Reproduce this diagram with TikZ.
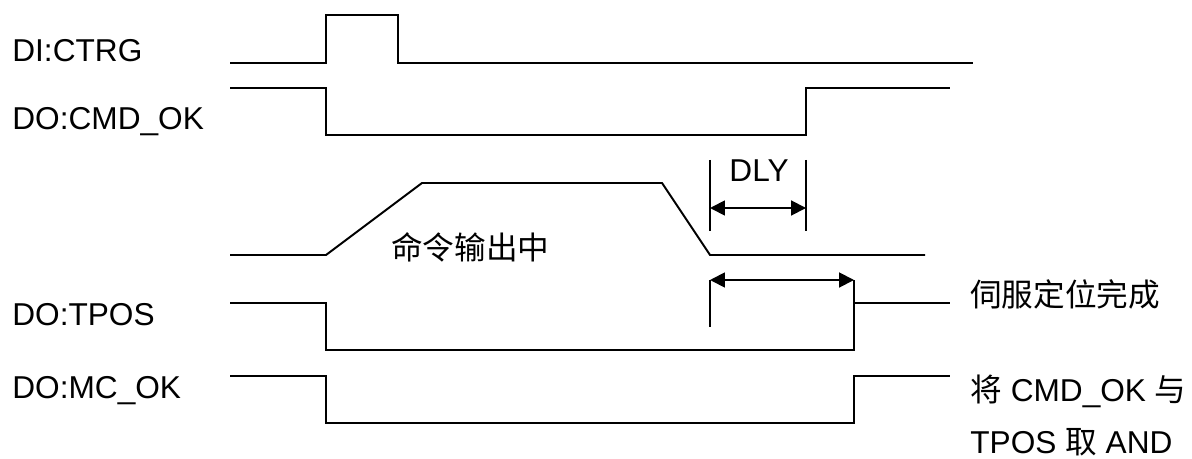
\documentclass[tikz,border=0pt]{standalone}
\usepackage{fontspec}
\setmainfont{Liberation Sans}
\newfontfamily\cjk{Noto Sans CJK SC}
\usepackage{tikz}
\usetikzlibrary{arrows.meta}
\tikzset{
	wave/.style={line width=1.1pt}
}
\tikzset{
	sigtext/.style={font=\fontsize{18}{22}\selectfont, inner sep=0pt}
}
\tikzset{
	dimarrow/.style={line width=1.1pt, {Triangle[length=8.5pt,width=8.5pt]}-{Triangle[length=8.5pt,width=8.5pt]}}
}
\newcommand{\zh}[1]{{\cjk #1}}

\begin{document}
\begin{tikzpicture}[x=0.02cm, y=-0.02cm]
      \useasboundingbox (0,0) rectangle (1192,459);
      % signal names
      \node[sigtext, anchor=base west] (ctrg) at (12,62) {DI:CTRG};
      \node[sigtext, anchor=base west] (cmdok) at (12,130) {DO:CMD\_OK};
      \node[sigtext, anchor=base west] (tpos) at (12,325) {DO:TPOS};
      \node[sigtext, anchor=base west] (mcok) at (12,398) {DO:MC\_OK};
      % waveforms
      \draw[wave] (230,63) -- (326,63) -- (326,15) -- (398,15) -- (398,63) -- (973,63);
      \draw[wave] (230,88) -- (326,88) -- (326,135) -- (806,135) -- (806,88) -- (950,88);
      \draw[wave] (230,255) -- (326,255) -- (422,183) -- (662,183) -- (710,255) -- (925,255);
      \draw[wave] (230,303) -- (326,303) -- (326,350) -- (854,350) -- (854,303) -- (950,303);
      \draw[wave] (230,376) -- (326,376) -- (326,423) -- (854,423) -- (854,376) -- (950,376);
      \node[sigtext, anchor=base west] (busy) at (391,259) {\zh{命令输出中}};
      % DLY
      \coordinate (dlyA) at (710,208);
      \coordinate (dlyB) at (806,208);
      \draw[wave] (710,160) -- (710,231);
      \draw[wave] (806,160) -- (806,231);
      \draw[dimarrow] (dlyA) -- (dlyB);
      \node[sigtext, anchor=base] (dly) at (759,182) {DLY};
      % in position
      \coordinate (posA) at (710,280);
      \coordinate (posB) at (854,280);
      \draw[wave] (posA) -- (710,327);
      \draw[wave] (posB) -- (854,303);
      \draw[dimarrow] (posA) -- (posB);
      % notes
      \node[sigtext, anchor=base west] (tposnote) at (970,306) {\zh{伺服定位完成}};
      \node[sigtext, anchor=base west] (mcnote) at (970,401) {\zh{将} CMD\_OK \zh{与}};
      \node[sigtext, anchor=base west] (andnote) at (970,453) {TPOS \zh{取} AND};
    \end{tikzpicture}
\end{document}
